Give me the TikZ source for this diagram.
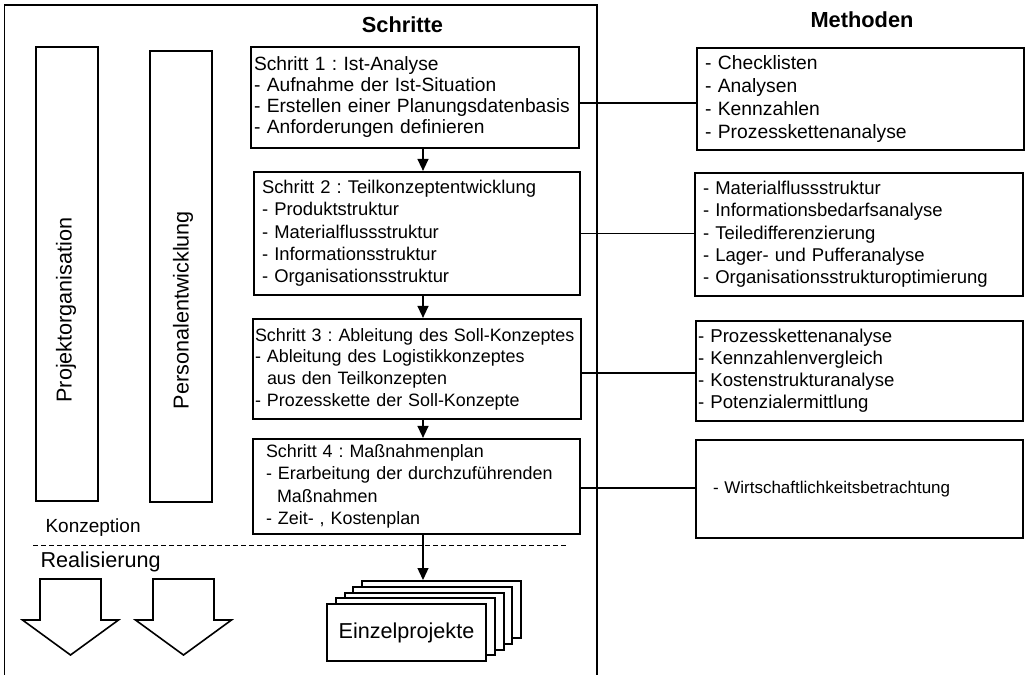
\documentclass[tikz,border=0pt]{standalone}
\usepackage{fontspec}
\setmainfont{Liberation Sans}
\usetikzlibrary{arrows.meta}

\newcommand{\fs}[2]{\fontsize{#1}{#2}\selectfont\frenchspacing}
\newcommand{\bigfont}{\fontsize{21.6}{24}\selectfont}
\newcommand{\titlefont}{\fontsize{21.8}{24}\selectfont\bfseries}

\begin{document}
\frenchspacing
\begin{tikzpicture}[x=1pt,y=-1pt,
  stepbox/.style={draw,line width=2.2pt,align=left,inner ysep=0pt},
  sidebox/.style={draw,line width=2pt,inner sep=0pt,minimum width=62pt},
  stackbox/.style={draw,fill=white,line width=2pt,inner sep=0pt,minimum width=159pt,minimum height=57pt,font=\bigfont},
  arr/.style={line width=1.3pt,-{Triangle[width=11pt,length=12pt]}},
  link/.style={line width=1.2pt}]
  \useasboundingbox (0,0) rectangle (1026,675);

  % frame of the steps, open at the bottom
  \draw[line width=1.3pt] (4.5,675)--(4.5,5)--(597,5)--(597,675);
  \node[font=\titlefont,anchor=base] (schritte) at (402.5,32) {Schritte};
  \node[font=\titlefont,anchor=base] (methoden) at (862,27) {Methoden};

  \node[sidebox,minimum height=454pt] (orga) at (67,274) {};
  \node[sidebox,minimum height=451pt] (perso) at (181,276.5) {};
  \node[font=\bigfont,rotate=90] (orgatext) at (66,310) {Projektorganisation};
  \node[font=\bigfont,rotate=90] (persotext) at (183,310) {Personalentwicklung};

  \node[stepbox,font=\fs{19.2}{21},text width=322pt,inner xsep=3pt,minimum height=101pt] (s1) at (415,97.5)
    {Schritt 1 : Ist-Analyse\\- Aufnahme der Ist-Situation\\\mbox{- Erstellen einer Planungsdatenbasis}\\- Anforderungen definieren};
  \node[stepbox,font=\fs{18.4}{22.3},text width=310pt,inner xsep=8pt,minimum height=123pt] (s2) at (417,233.5)
    {Schritt 2 : Teilkonzeptentwicklung\\- Produktstruktur\\- Materialflussstruktur\\- Informationsstruktur\\- Organisationsstruktur};
  \node[stepbox,font=\fs{17.9}{21.7},text width=324pt,inner xsep=2pt,minimum height=100pt] (s3) at (417,369)
    {\mbox{Schritt 3 : Ableitung des Soll-Konzeptes}\\- Ableitung des Logistikkonzeptes\\\hspace*{12pt}aus den Teilkonzepten\\- Prozesskette der Soll-Konzepte};
  \node[stepbox,font=\fs{17.9}{22.3},text width=301pt,inner xsep=13pt,minimum height=95pt] (s4) at (416.5,486.5)
    {Schritt 4 : Maßnahmenplan\\- Erarbeitung der durchzuführenden\\\hspace*{11pt}Maßnahmen\\- Zeit- , Kostenplan};

  \node[stepbox,font=\fs{19.3}{23},text width=311pt,inner xsep=8pt,minimum height=102pt] (m1) at (860.5,99)
    {- Checklisten\\- Analysen\\- Kennzahlen\\- Prozesskettenanalyse};
  \node[stepbox,font=\fs{18.5}{22.3},text width=312pt,inner xsep=8pt,minimum height=123pt] (m2) at (859,234.5)
    {- Materialflussstruktur\\- Informationsbedarfsanalyse\\- Teiledifferenzierung\\- Lager- und Pufferanalyse\\- Organisationsstrukturoptimierung};
  \node[stepbox,font=\fs{18.6}{22},text width=323pt,inner xsep=2pt,minimum height=100pt] (m3) at (859.5,371)
    {- Prozesskettenanalyse\\- Kennzahlenvergleich\\- Kostenstrukturanalyse\\- Potenzialermittlung};
  \node[stepbox,font=\fs{17}{22},text width=293pt,inner xsep=17pt,minimum height=98pt] (m4) at (859.5,489)
    {- Wirtschaftlichkeitsbetrachtung};

  \draw[link] ([yshift=-5.5pt]s1.east) coordinate (c1) -- (c1 -| m1.west);
  \draw[link] (s2.east) -- (s2.east -| m2.west);
  \draw[link] ([yshift=-4pt]s3.east) coordinate (c3) -- (c3 -| m3.west);
  \draw[link] ([yshift=-1.5pt]s4.east) coordinate (c4) -- (c4 -| m4.west);

  \node[font=\fontsize{19}{22}\selectfont,anchor=base west] (konz) at (42,532) {Konzeption};
  \draw[line width=1pt,dash pattern=on 5pt off 3pt] (33,545)--(568,545);
  \node[font=\bigfont,anchor=base west] (real) at (37,567) {Realisierung};

  % block arrows
  \foreach \cx in {70.5,183.5}
    \draw[line width=1.6pt] (\cx-30.5,579)--++(61,0)--++(0,41)--++(17.5,0)--(\cx,655)--(\cx-48,620)--++(17.5,0)--cycle;

  % stack of projects
  \foreach \i in {4,3,2,1}
    \node[stackbox] (ep\i) at (406.5+\i*8.75,632.5-\i*5.75) {};
  \node[stackbox] (ep) at (406.5,632.5) {Einzelprojekte};

  \coordinate (ax) at (423,0);
  \draw[arr] (s1.south -| ax) -- (s2.north -| ax);
  \draw[arr] (s2.south -| ax) -- (s3.north -| ax);
  \draw[arr] (s3.south -| ax) -- (s4.north -| ax);
  \draw[arr] (s4.south -| ax) -- (ep4.north -| ax);
\end{tikzpicture}
\end{document}
